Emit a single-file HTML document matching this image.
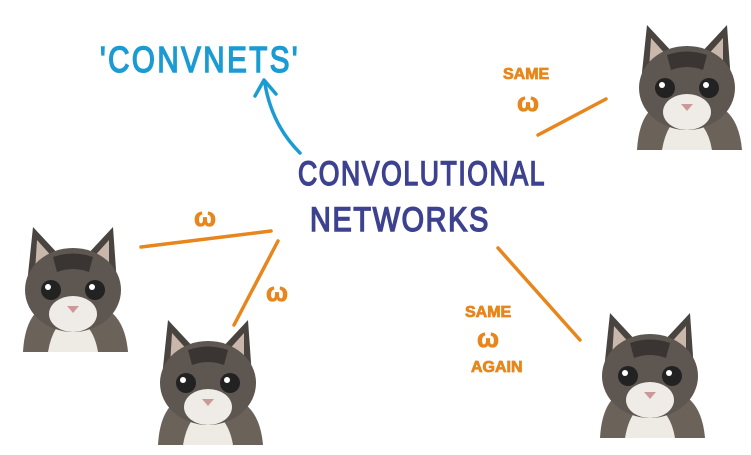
<!DOCTYPE html>
<html><head><meta charset="utf-8"><style>
html,body{margin:0;padding:0;background:#fff;}
svg{display:block}
text{font-family:"Liberation Sans",sans-serif;}
</style></head><body>
<svg width="751" height="455" viewBox="0 0 751 455" xmlns="http://www.w3.org/2000/svg">
<defs>
<g id="kit">
  <path d="M10,130 Q12,95 30,85 L90,85 Q112,95 115,130 Z" fill="#6b625a"/>
  <path d="M35,130 Q40,100 58,95 Q80,100 85,130 Z" fill="#eeeae4"/>
  <path d="M14,62 L20,5 L48,35 Z" fill="#4a4440"/>
  <path d="M104,62 L100,5 L72,35 Z" fill="#4a4440"/>
  <path d="M22,50 L24,18 L42,38 Z" fill="#c9b7ab"/>
  <path d="M96,50 L96,18 L78,38 Z" fill="#c9b7ab"/>
  <ellipse cx="60" cy="68" rx="48" ry="42" fill="#5e5751"/>
  <path d="M40,35 Q60,28 80,35 L76,50 Q60,44 44,50 Z" fill="#3a3532"/>
  <ellipse cx="60" cy="92" rx="24" ry="18" fill="#efebe6"/>
  <ellipse cx="38" cy="68" rx="10" ry="10" fill="#222"/>
  <ellipse cx="82" cy="68" rx="10" ry="10" fill="#222"/>
  <circle cx="35" cy="65" r="3" fill="#fff"/>
  <circle cx="79" cy="65" r="3" fill="#fff"/>
  <path d="M54,84 L66,84 L60,91 Z" fill="#c99" />
</g>
</defs>

<use href="#kit" x="627" y="20"/>
<use href="#kit" x="13" y="222"/>
<use href="#kit" x="148" y="315"/>
<use href="#kit" x="590" y="308"/>

<g stroke="#e8861e" stroke-width="3.5" stroke-linecap="round" fill="none">
  <line x1="538" y1="135" x2="606" y2="99"/>
  <line x1="141" y1="247" x2="271" y2="231"/>
  <line x1="234" y1="325" x2="278" y2="241"/>
  <line x1="498" y1="248" x2="580" y2="340"/>
</g>
<g fill="#e8861e" stroke="#e8861e" stroke-width="0.8" font-weight="bold">
  <text x="503" y="79" font-size="16">SAME</text>
  <text x="517" y="111" font-size="26">ω</text>
  <text x="194" y="226" font-size="26">ω</text>
  <text x="266" y="301" font-size="26">ω</text>
  <text x="465" y="317" font-size="16">SAME</text>
  <text x="477" y="347" font-size="26">ω</text>
  <text x="471" y="372" font-size="16">AGAIN</text>
</g>

<path d="M300,153 Q272,125 265,84" stroke="#1b9bd3" stroke-width="3.5" fill="none" stroke-linecap="round"/>
<path d="M255,96 L264,80 L276,94" stroke="#1b9bd3" stroke-width="3.5" fill="none" stroke-linecap="round" stroke-linejoin="round"/>

<text x="100" y="72" fill="#1b9bd3" stroke="#1b9bd3" stroke-width="1.5" font-size="36" letter-spacing="3" textLength="200" lengthAdjust="spacingAndGlyphs">'CONVNETS'</text>
<text x="298" y="185" fill="#3d4290" stroke="#3d4290" stroke-width="1.5" font-size="34" letter-spacing="2" textLength="248" lengthAdjust="spacingAndGlyphs">CONVOLUTIONAL</text>
<text x="310" y="231" fill="#3d4290" stroke="#3d4290" stroke-width="1.5" font-size="34" letter-spacing="2" textLength="180" lengthAdjust="spacingAndGlyphs">NETWORKS</text>
</svg>
</body></html>
